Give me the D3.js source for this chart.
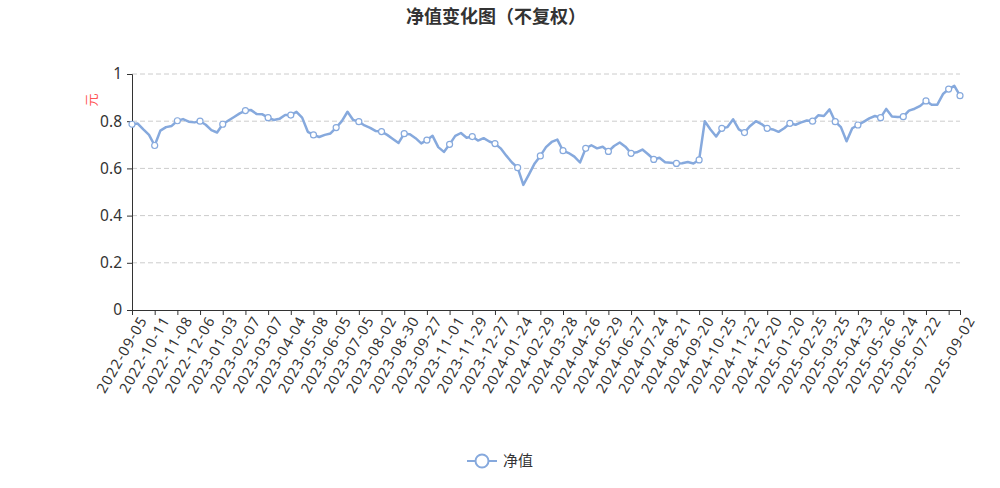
<!DOCTYPE html>
<html>
<head>
<meta charset="utf-8">
<script src="https://cdn.jsdelivr.net/npm/d3@7"></script>
<style>
  body { margin: 0; background: #fff; }
  text { font-family: "Noto Sans CJK SC", "Open Sans", sans-serif; }
</style>
</head>
<body>
<div id="chart"></div>
<script>
// net value sampled every 5 trading days (index 0 .. 730)
var STEP = 5;
var navValues = [
  0.787, 0.790, 0.765, 0.742, 0.697, 0.760, 0.775, 0.780, 0.802, 0.809,
  0.798, 0.795, 0.800, 0.785, 0.762, 0.752, 0.787, 0.803, 0.818, 0.833,
  0.845, 0.847, 0.830, 0.829, 0.815, 0.805, 0.810, 0.826, 0.826, 0.840,
  0.815, 0.755, 0.742, 0.733, 0.742, 0.748, 0.773, 0.800, 0.840, 0.805,
  0.798, 0.782, 0.772, 0.758, 0.756, 0.742, 0.725, 0.708, 0.747, 0.745,
  0.728, 0.706, 0.720, 0.738, 0.690, 0.670, 0.702, 0.738, 0.750, 0.730,
  0.735, 0.718, 0.728, 0.714, 0.705, 0.685, 0.654, 0.625, 0.603, 0.530,
  0.575, 0.621, 0.653, 0.690, 0.712, 0.722, 0.675, 0.665, 0.650, 0.625,
  0.685, 0.698, 0.685, 0.692, 0.672, 0.695, 0.710, 0.692, 0.664, 0.668,
  0.680, 0.660, 0.638, 0.645, 0.626, 0.624, 0.621, 0.622, 0.627, 0.621,
  0.636, 0.800, 0.765, 0.735, 0.770, 0.775, 0.808, 0.765, 0.752, 0.780,
  0.800, 0.788, 0.770, 0.765, 0.755, 0.770, 0.791, 0.785, 0.795, 0.803,
  0.800, 0.825, 0.822, 0.850, 0.798, 0.775, 0.715, 0.770, 0.784, 0.797,
  0.812, 0.822, 0.815, 0.852, 0.820, 0.818, 0.819, 0.845, 0.853, 0.865,
  0.886, 0.870, 0.870, 0.915, 0.936, 0.950, 0.908
];

// x axis: a tick every 20 trading days, label shown where room allows
var TICK_EVERY = 20;
var tickLabels = [
  '2022-09-05', '2022-10-11', '2022-11-08', '2022-12-06', '2023-01-03',
  '2023-02-07', '2023-03-07', '2023-04-04', '2023-05-08', '2023-06-05',
  '2023-07-05', '2023-08-02', '2023-08-30', '2023-09-27', '2023-11-01',
  '2023-11-29', '2023-12-27', '2024-01-24', '2024-02-29', '2024-03-28',
  '2024-04-26', '2024-05-29', '2024-06-27', '2024-07-24', '2024-08-21',
  '2024-09-20', '2024-10-25', '2024-11-22', '2024-12-20', '2025-01-20',
  '2025-02-25', '2025-03-25', '2025-04-23', '2025-05-26', '2025-06-24',
  '2025-07-22'
];
var lastLabel = '2025-09-02';
var yTicks = [0, 0.2, 0.4, 0.6, 0.8, 1];

var width = 1000,
	height = 488,
	margin = { top: 74, right: 40, bottom: 178, left: 132 },
	drawWidth = width - margin.left - margin.right,
	drawHeight = height - margin.top - margin.bottom;

var lineColor = '#86a9dd';
var textColor = '#333';

var data = navValues.map(function(v, i) { return { idx: i * STEP, value: v }; });
var lastIdx = data[data.length - 1].idx;

var svg = d3.select('#chart').append('svg')
	.attr('width', width)
	.attr('height', height);

svg.append('text')
	.attr('x', 496)
	.attr('y', 23)
	.attr('text-anchor', 'middle')
	.attr('font-size', 18)
	.attr('font-weight', 'bold')
	.attr('fill', textColor)
	.text('净值变化图（不复权）');

var g = svg.append('g')
	.attr('transform', 'translate(' + margin.left + ',' + margin.top + ')');

var xScale = d3.scaleLinear().domain([0, lastIdx]).range([0, drawWidth]);
var yScale = d3.scaleLinear().domain([0, 1]).range([drawHeight, 0]);

// grid
g.selectAll('.grid').data(yTicks.filter(function(d) { return d > 0; }))
	.enter().append('line')
	.attr('class', 'grid')
	.attr('x1', 0).attr('x2', drawWidth)
	.attr('y1', function(d) { return yScale(d); })
	.attr('y2', function(d) { return yScale(d); })
	.attr('stroke', '#ccc')
	.attr('stroke-dasharray', '5,3');

// y axis
var yAxis = d3.axisLeft(yScale).tickValues(yTicks).tickSize(5).tickPadding(5)
	.tickFormat(function(d) { return d3.format('~g')(d); });
var yAxisG = g.append('g').call(yAxis);
yAxisG.select('.domain').attr('stroke', textColor);
yAxisG.selectAll('.tick line').attr('stroke', textColor);
yAxisG.selectAll('text').attr('font-size', 15.5).attr('fill', textColor)
	.style('font-family', '"Noto Sans", sans-serif');

svg.append('text')
	.attr('transform', 'translate(96,100) rotate(-90)')
	.attr('text-anchor', 'middle')
	.attr('font-size', 13)
	.attr('fill', '#f55')
	.text('元');

// x axis
var xTickValues = d3.range(0, lastIdx, TICK_EVERY).concat([lastIdx]);
var xAxis = d3.axisBottom(xScale).tickValues(xTickValues).tickSize(5).tickPadding(4)
	.tickFormat(function(d) {
		if (d === lastIdx) return lastLabel;
		return tickLabels[d / TICK_EVERY] || '';
	});
var xAxisG = g.append('g')
	.attr('transform', 'translate(0,' + drawHeight + ')')
	.call(xAxis);
xAxisG.select('.domain').attr('stroke', textColor);
xAxisG.selectAll('.tick line').attr('stroke', textColor);
xAxisG.selectAll('text')
	.attr('font-size', 14.5)
	.attr('letter-spacing', '1px')
	.attr('fill', textColor)
	.style('font-family', '"Noto Sans", sans-serif')
	.attr('text-anchor', 'end')
	.attr('dy', '0.35em')
	.attr('transform', 'translate(3,3) rotate(-60)');

// line
var line = d3.line()
	.x(function(d) { return xScale(d.idx); })
	.y(function(d) { return yScale(d.value); });

g.append('path')
	.datum(data)
	.attr('fill', 'none')
	.attr('stroke', lineColor)
	.attr('stroke-width', 2.5)
	.attr('stroke-linejoin', 'round')
	.attr('d', line);

g.selectAll('.dot')
	.data(data.filter(function(d) { return d.idx % TICK_EVERY === 0 || d.idx === lastIdx; }))
	.enter().append('circle')
	.attr('class', 'dot')
	.attr('cx', function(d) { return xScale(d.idx); })
	.attr('cy', function(d) { return yScale(d.value); })
	.attr('r', 3)
	.attr('fill', '#fff')
	.attr('stroke', lineColor)
	.attr('stroke-width', 1.2);

// legend
var legend = svg.append('g').attr('transform', 'translate(467,461)');
legend.append('line')
	.attr('x1', 0).attr('x2', 30)
	.attr('stroke', lineColor).attr('stroke-width', 2);
legend.append('circle')
	.attr('cx', 15).attr('r', 6.5)
	.attr('fill', '#fff').attr('stroke', lineColor).attr('stroke-width', 2);
legend.append('text')
	.attr('x', 36).attr('dy', '0.35em')
	.attr('font-size', 15)
	.attr('fill', textColor)
	.text('净值');
</script>
</body>
</html>
